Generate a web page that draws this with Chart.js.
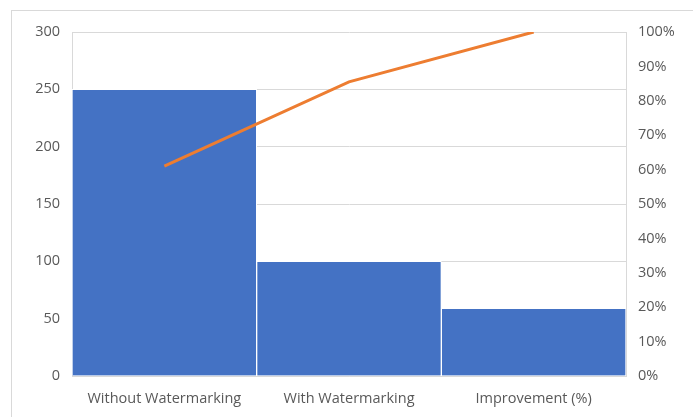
<!DOCTYPE html>
<html lang="en">
<head>
    <meta charset="UTF-8">
    <title>Watermarking Pareto</title>
    <script src="https://cdn.jsdelivr.net/npm/chart.js"></script>
    <style>
        body { margin: 0; background: #fff; }
        .frame {
            position: absolute;
            left: 11px; top: 10px;
            width: 690px; height: 420px;
            border: 1px solid #d9d9d9;
        }
        #chart { position: absolute; left: 0; top: 0; }
    </style>
</head>
<body>
    <div class="frame"></div>
    <canvas id="chart" width="693" height="417"></canvas>

    <script>
        // Data
        const categories = ['Without Watermarking', 'With Watermarking', 'Improvement (%)'];
        const barValues = [250, 100, 59];
        const cumulativePct = [61, 85.5, 100];

        const gridColor = '#d9d9d9';
        const tickColor = '#595959';
        const tickFont = { family: 'Open Sans', size: 14.5 };

        new Chart(document.getElementById('chart'), {
            data: {
                labels: categories,
                datasets: [
                    {
                        type: 'line',
                        data: cumulativePct,
                        borderColor: '#ED7D31',
                        borderWidth: 3,
                        pointRadius: 0,
                        tension: 0,
                        yAxisID: 'y1',
                        order: 0
                    },
                    {
                        type: 'bar',
                        data: barValues,
                        backgroundColor: '#4472C4',
                        borderColor: '#ffffff',
                        borderWidth: 1,
                        borderSkipped: 'bottom',
                        categoryPercentage: 1,
                        barPercentage: 1,
                        yAxisID: 'y',
                        order: 1
                    }
                ]
            },
            options: {
                responsive: false,
                animation: false,
                layout: { padding: { top: 32, left: 0, right: 0, bottom: 0 } },
                plugins: { legend: { display: false }, tooltip: { enabled: false } },
                scales: {
                    x: {
                        grid: { display: false, drawTicks: false },
                        border: { color: gridColor },
                        ticks: { color: tickColor, font: tickFont, padding: 14, maxRotation: 0 },
                        afterFit: s => { s.height = 41; }
                    },
                    y: {
                        position: 'left',
                        min: 0, max: 300,
                        grid: { color: gridColor, drawTicks: false },
                        border: { color: gridColor },
                        ticks: { stepSize: 50, color: tickColor, font: tickFont, padding: 12 },
                        afterFit: s => { s.width = 72; }
                    },
                    y1: {
                        position: 'right',
                        min: 0, max: 100,
                        grid: { display: false, drawTicks: false },
                        border: { color: gridColor },
                        ticks: { stepSize: 10, color: tickColor, font: tickFont, padding: 12,
                                 callback: v => v + '%' },
                        afterFit: s => { s.width = 67; }
                    }
                }
            }
        });
    </script>
</body>
</html>
